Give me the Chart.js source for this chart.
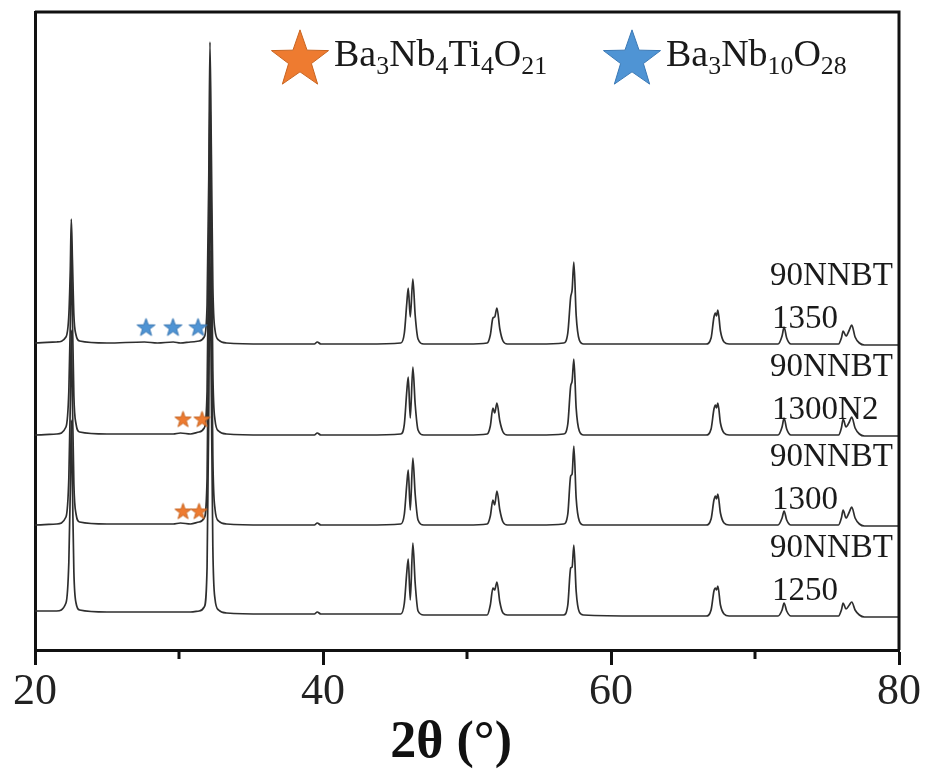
<!DOCTYPE html>
<html>
<head>
<meta charset="utf-8">
<title>XRD 90NNBT</title>
<script src="https://cdn.jsdelivr.net/npm/chart.js@4.4.1/dist/chart.umd.min.js"></script>
<style>
  html, body { margin: 0; padding: 0; background: #fff; }
  #wrap { width: 926px; height: 771px; }
</style>
</head>
<body>
<div id="wrap"><canvas id="xrd"></canvas></div>
<script>
// 2θ sampling points shared by all four patterns
const twoTheta = [
  20.0, 21.5, 22.15, 22.35, 22.45, 22.52, 22.6, 22.7, 22.85, 23.1,
  25.0, 27.6, 28.5, 29.6, 30.1, 30.8, 31.4, 31.75, 31.95, 32.07,
  32.15, 32.25, 32.35, 32.5, 32.75, 33.3, 36.0, 39.4, 39.6, 39.85,
  43.0, 45.4, 45.65, 45.82, 45.92, 46.06, 46.24, 46.4, 46.6, 47.0,
  50.0, 51.4, 51.62, 51.8, 51.92, 52.08, 52.28, 52.5, 52.8, 55.0,
  56.7, 57.0, 57.2, 57.3, 57.42, 57.58, 57.8, 58.1, 62.0, 66.6,
  66.95, 67.15, 67.25, 67.33, 67.42, 67.6, 67.85, 68.2, 70.0, 71.6,
  71.88, 72.02, 72.2, 72.5, 74.0, 75.8, 76.0, 76.12, 76.32, 76.55,
  76.72, 76.95, 77.25, 77.6, 80.0
];

// intensities (a.u.), one list per sintering condition
const int1350 = [
  2, 3, 8, 30, 75, 126, 85, 30, 10, 4,
  2, 3, 2, 3, 2, 3, 4, 8, 40, 170,
  303, 190, 60, 15, 5, 2, 1, 1, 3, 1,
  1, 2, 12, 42, 57, 28, 66, 30, 6, 1,
  1, 2, 10, 27, 28, 37, 16, 4, 1, 1,
  2, 12, 48, 55, 83, 30, 5, 1, 1, 1,
  7, 28, 32, 29, 35, 14, 3, 1, 1, 1,
  9, 18, 7, 1, 1, 1, 7, 14, 9, 15,
  20, 8, 2, 0, 0
];
const int1300N2 = [
  1, 2, 9, 45, 110, 186, 120, 40, 12, 4,
  2, 2, 2, 2, 3, 2, 4, 8, 45, 200,
  346, 210, 65, 16, 5, 2, 1, 1, 3, 1,
  1, 2, 12, 45, 59, 18, 69, 32, 6, 1,
  1, 2, 10, 28, 23, 33, 15, 4, 1, 1,
  2, 12, 50, 55, 77, 28, 5, 1, 1, 1,
  7, 27, 31, 28, 33, 13, 3, 1, 1, 1,
  9, 18, 7, 1, 1, 1, 8, 17, 9, 14,
  19, 8, 2, 0, 0
];
const int1300 = [
  1, 2, 9, 48, 120, 196, 125, 42, 12, 4,
  2, 2, 2, 2, 3, 2, 4, 8, 48, 215,
  376, 225, 70, 17, 5, 2, 1, 1, 3, 1,
  1, 2, 12, 42, 56, 16, 68, 32, 6, 1,
  1, 2, 10, 26, 21, 35, 16, 4, 1, 1,
  2, 12, 50, 52, 80, 28, 5, 1, 1, 1,
  7, 26, 30, 27, 32, 13, 3, 1, 1, 1,
  8, 15, 6, 1, 1, 1, 8, 16, 8, 14,
  19, 8, 2, 0, 0
];
const int1250 = [
  6, 6, 14, 55, 125, 197, 130, 45, 14, 7,
  5, 5, 5, 5, 5, 5, 6, 10, 50, 210,
  367, 220, 70, 18, 7, 4, 3, 3, 5, 3,
  3, 3, 14, 45, 58, 17, 74, 34, 6, 2,
  2, 2, 12, 29, 27, 35, 15, 4, 2, 2,
  2, 12, 49, 50, 72, 26, 5, 2, 1, 1,
  7, 26, 29, 27, 31, 12, 3, 1, 1, 1,
  7, 14, 6, 1, 1, 1, 7, 14, 8, 12,
  15, 7, 2, 0, 0
];

const sampleNames = ['1350', '1300N2', '1300', '1250'];
const sampleSeries = [int1350, int1300N2, int1300, int1250];
const stackOffsets = [305, 214, 124, 33];

// secondary phase markers
const phaseNames = ['Ba3Nb4Ti4O21', 'Ba3Nb10O28'];
const orangeStarX = [30.28, 31.6, 30.28, 31.39];
const orangeStarY = [231, 231, 139, 139];
const blueStarX = [27.71, 29.58, 31.32];
const blueStarY = [323, 323, 323];

const ORANGE = '#ee7b30';
const BLUE = '#4f94d4';
const SERIF = "'Liberation Serif', 'Times New Roman', serif";

function drawStar(g, cx, cy, r, fill, stroke) {
  // shift so the star's bounding box is centred on (cx, cy)
  cy += r * 0.095;
  g.beginPath();
  for (let k = 0; k < 10; k++) {
    const rad = k % 2 ? r * 0.4 : r;
    const a = -Math.PI / 2 + k * Math.PI / 5;
    g.lineTo(cx + rad * Math.cos(a), cy + rad * Math.sin(a));
  }
  g.closePath();
  g.fillStyle = fill;
  g.fill();
  g.lineWidth = 1;
  g.strokeStyle = stroke;
  g.stroke();
}

function starCanvas(r, fill, stroke) {
  const c = document.createElement('canvas');
  c.width = c.height = Math.ceil(r * 2 + 4);
  drawStar(c.getContext('2d'), c.width / 2, c.height / 2, r, fill, stroke);
  return c;
}

// formula with digits as subscripts
function drawFormula(g, text, x, y, size) {
  const parts = text.match(/[A-Za-z]+|\d+/g);
  g.textBaseline = 'alphabetic';
  g.textAlign = 'left';
  for (const p of parts) {
    const sub = /\d/.test(p);
    g.font = (sub ? size * 0.68 : size) + 'px ' + SERIF;
    g.fillText(p, x, y + (sub ? size * 0.2 : 0));
    x += g.measureText(p).width;
  }
}

const framePlugin = {
  id: 'frame',
  afterDatasetsDraw(chart) {
    const { ctx, chartArea: a, scales } = chart;
    ctx.save();
    ctx.strokeStyle = '#111';
    ctx.lineWidth = 3;
    ctx.beginPath();
    ctx.moveTo(a.left, a.top);
    ctx.lineTo(a.right, a.top);
    ctx.lineTo(a.right, a.bottom);
    ctx.stroke();
    // minor ticks
    [30, 50, 70].forEach(v => {
      const px = scales.x.getPixelForValue(v);
      ctx.beginPath();
      ctx.moveTo(px, a.bottom);
      ctx.lineTo(px, a.bottom + 9);
      ctx.stroke();
    });

    // axis title
    ctx.fillStyle = '#111';
    ctx.font = 'bold 52px ' + SERIF;
    ctx.textAlign = 'center';
    ctx.textBaseline = 'alphabetic';
    ctx.fillText('2θ (°)', scales.x.getPixelForValue(48.9), a.bottom + 107);

    // sample labels on the right
    ctx.fillStyle = '#1a1a1a';
    ctx.font = '33px ' + SERIF;
    ctx.textAlign = 'left';
    ctx.textBaseline = 'middle';
    const lx = scales.x.getPixelForValue(71.05);
    sampleNames.forEach((name, i) => {
      const base = scales.y.getPixelForValue(stackOffsets[i]);
      ctx.fillText('90NNBT', lx, base - 69);
      ctx.fillText(name, lx + 2, base - 26);
    });

    // phase legend
    const lg = [[300, ORANGE, '#c86420'], [632, BLUE, '#3a78b4']];
    lg.forEach(([cx, fill, stroke], i) => {
      drawStar(ctx, cx, a.top + 45, 30, fill, stroke);
      ctx.fillStyle = '#1a1a1a';
      drawFormula(ctx, phaseNames[i], cx + 34, a.top + 54, 38);
    });
    ctx.restore();
  }
};

const xrd = document.getElementById('xrd').getContext('2d');

const patternSets = sampleSeries.map((ints, i) => ({
  label: '90NNBT ' + sampleNames[i],
  data: twoTheta.map((t, k) => ({ x: t, y: ints[k] + stackOffsets[i] })),
  borderColor: '#2e2e2e',
  borderWidth: 1.7,
  pointRadius: 0,
  cubicInterpolationMode: 'monotone',
  order: 2
}));

const myXrdChart = new Chart(xrd, {
  type: 'line',
  data: {
    datasets: [
      ...patternSets,
      {
        type: 'scatter',
        label: phaseNames[0],
        data: orangeStarX.map((x, k) => ({ x: x, y: orangeStarY[k] })),
        pointStyle: starCanvas(8.5, ORANGE, '#c86420'),
        order: 0
      },
      {
        type: 'scatter',
        label: phaseNames[1],
        data: blueStarX.map((x, k) => ({ x: x, y: blueStarY[k] })),
        pointStyle: starCanvas(9.5, BLUE, '#3a78b4'),
        order: 0
      }
    ]
  },
  plugins: [framePlugin],
  options: {
    responsive: true,
    maintainAspectRatio: false,
    animation: false,
    layout: { padding: { top: 12, right: 27, left: 0, bottom: 0 } },
    scales: {
      x: {
        type: 'linear',
        min: 20,
        max: 80,
        afterFit: s => { s.height = 121; },
        border: { color: '#111', width: 3 },
        grid: {
          drawOnChartArea: false,
          tickLength: 15,
          tickWidth: 3,
          tickColor: ctx => (ctx.tick && ctx.tick.value % 20 === 0 ? '#111' : 'transparent')
        },
        ticks: {
          stepSize: 10,
          maxRotation: 0,
          padding: 1,
          color: '#222',
          font: { family: SERIF, size: 44 },
          callback: v => (v % 20 === 0 ? v : '')
        }
      },
      y: {
        min: 0,
        max: 638,
        afterFit: s => { s.width = 35; },
        border: { color: '#111', width: 3 },
        grid: { display: false },
        ticks: { display: false }
      }
    },
    plugins: {
      legend: { display: false },
      tooltip: { enabled: false }
    }
  }
});
</script>
</body>
</html>
